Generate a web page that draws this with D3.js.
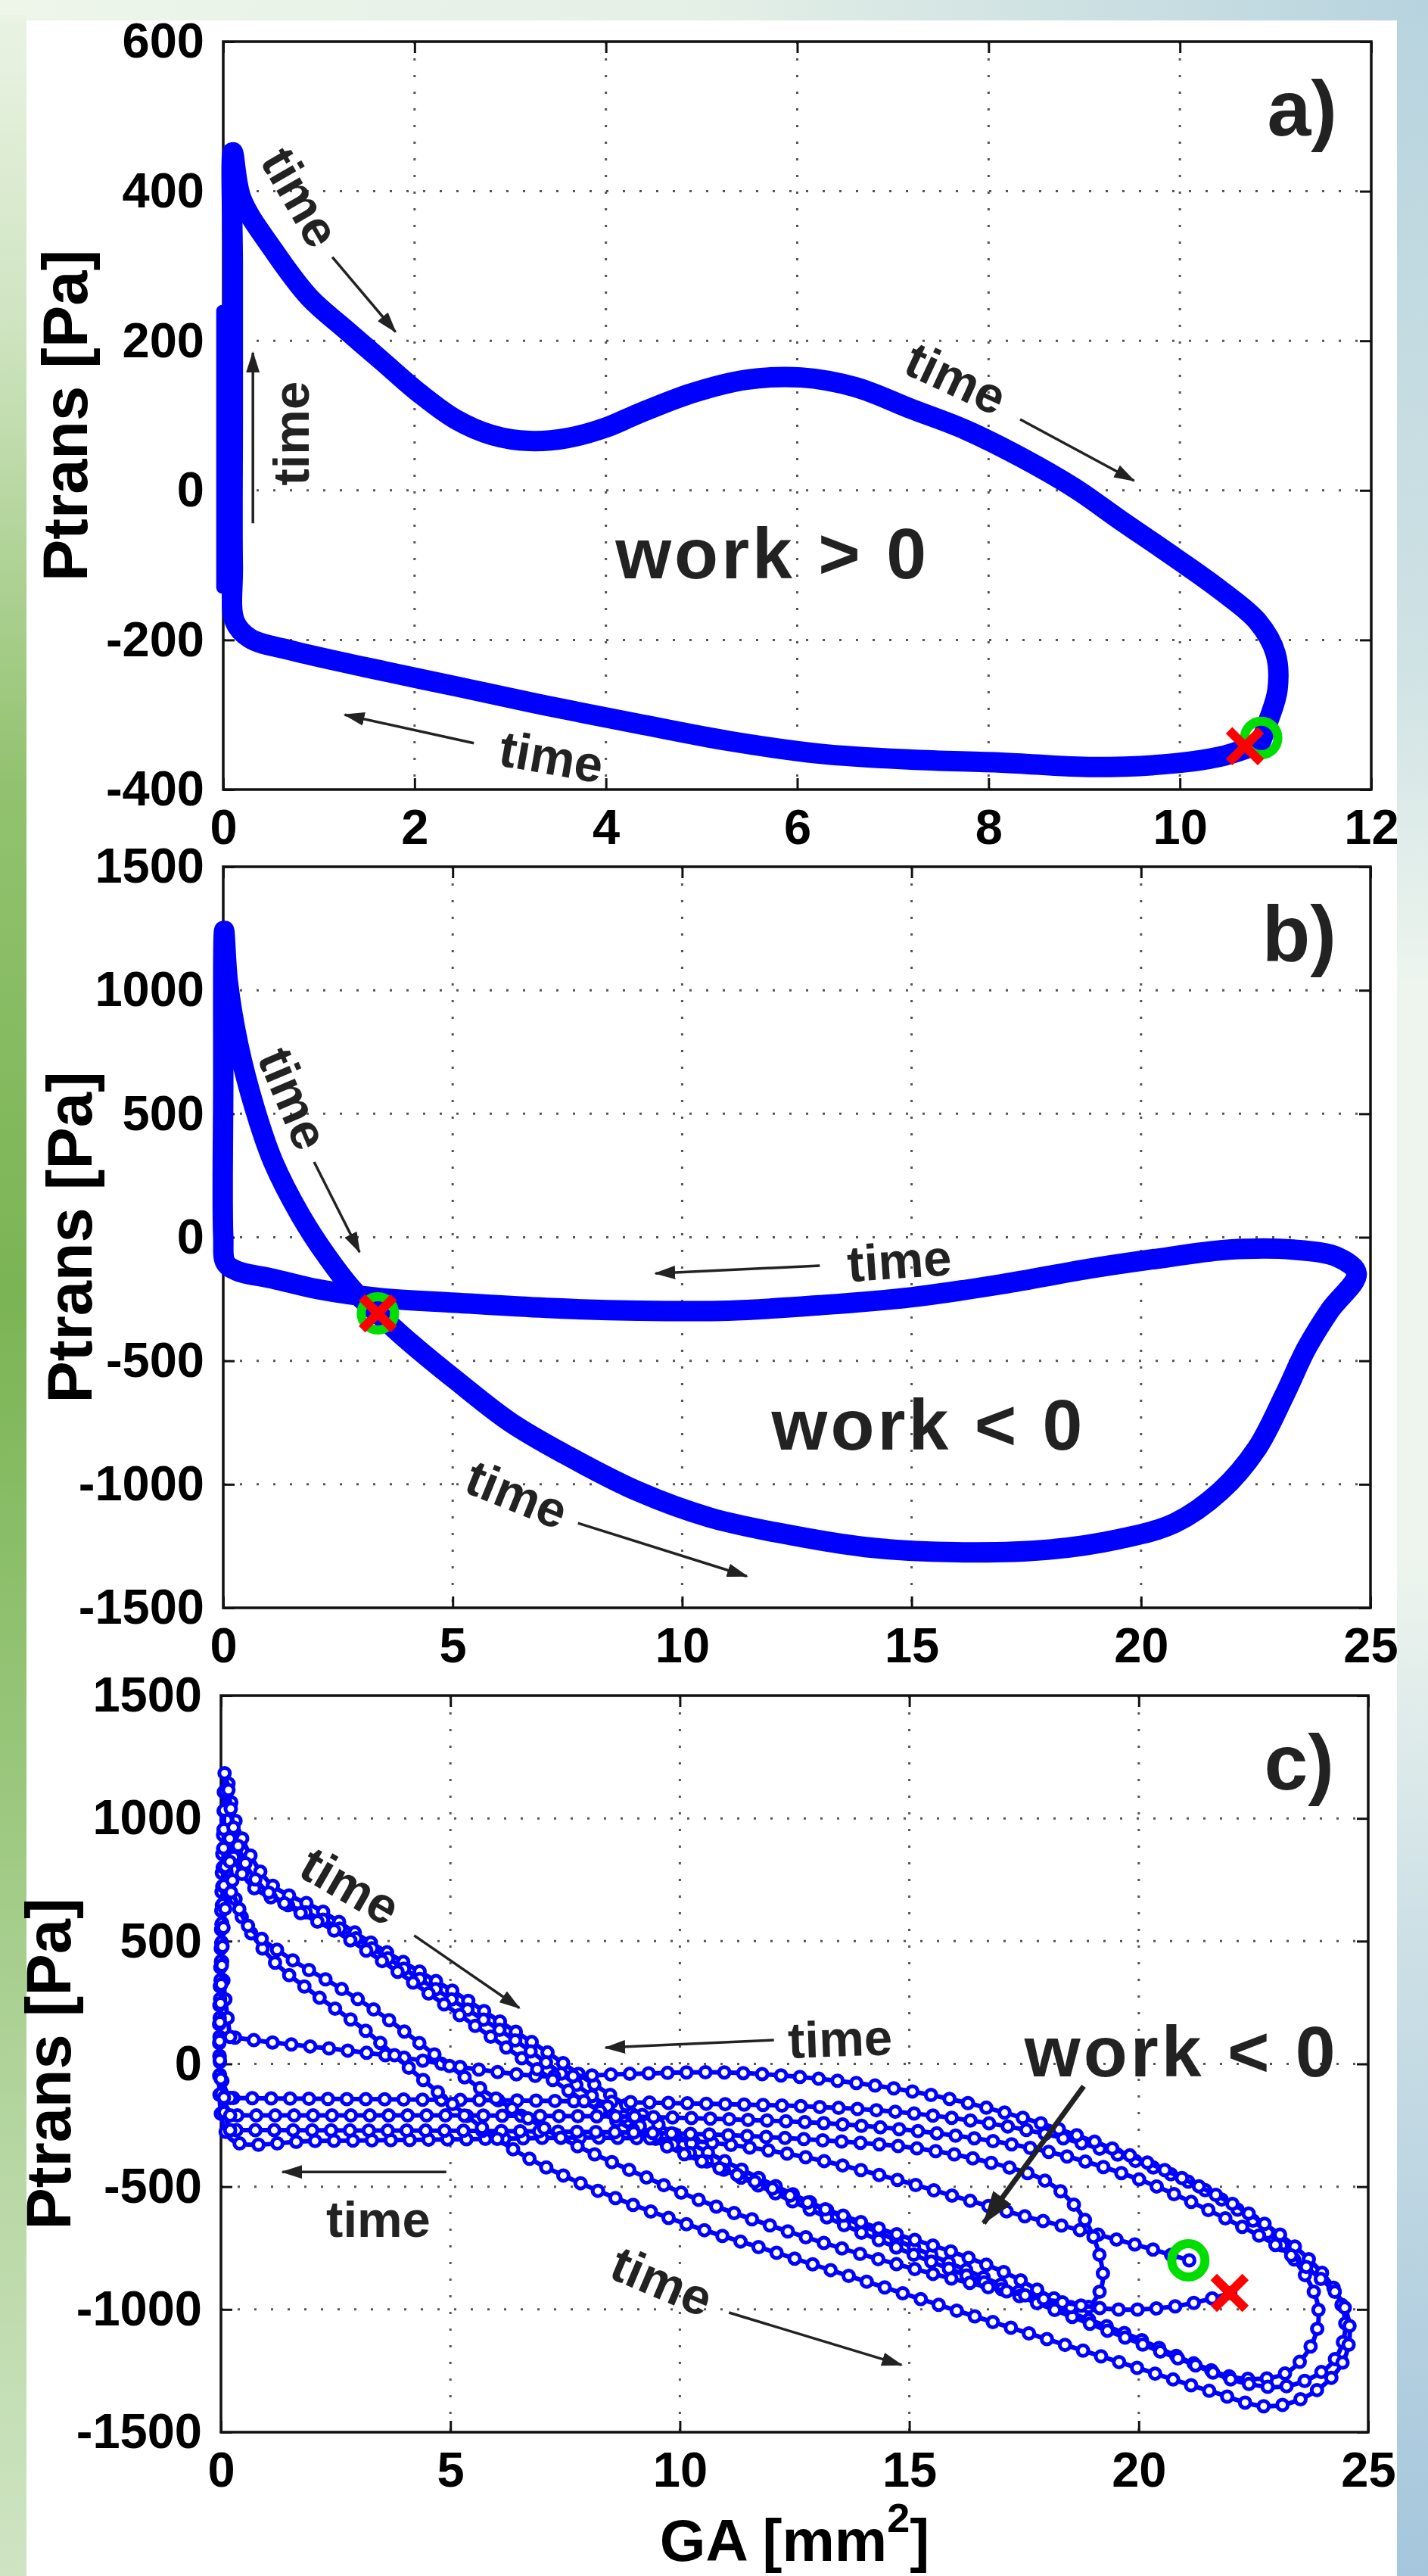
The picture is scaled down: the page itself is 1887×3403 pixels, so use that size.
<!DOCTYPE html>
<html>
<head>
<meta charset="utf-8">
<script src="https://cdn.jsdelivr.net/npm/d3@7"></script>
<style>
  body { margin: 0; background: #fff; }
  svg { display: block; }
  text { font-family: "Liberation Sans", Arial, Helvetica, sans-serif; font-weight: bold; }
</style>
</head>
<body>
<svg id="fig" width="1887" height="3403"></svg>
<script>
// tick values
var xTicksA = [0, 2, 4, 6, 8, 10, 12];
var yTicksA = [-400, -200, 0, 200, 400, 600];
var xTicksBC = [0, 5, 10, 15, 20, 25];
var yTicksBC = [-1500, -1000, -500, 0, 500, 1000, 1500];

// a) one cycle, GA [mm2] vs Ptrans [Pa]
var loopA = [[10.7,-345],[10.42,-356],[9.95,-365],[9.09,-370],[8.14,-364],[7.19,-360],[6.23,-352],[5.28,-335],
  [4.33,-312],[3.38,-288],[2.43,-262],[1.47,-236],[0.71,-214],[0.28,-198],[0.12,-175],[0.1,-100],[0.1,100],
  [0.1,300],[0.1,452],[0.19,390],[0.52,322],[0.9,258],[1.28,215],[1.66,173],[2.05,130],[2.43,95],[2.81,74],
  [3.2,66],[3.6,70],[4.0,84],[4.33,102],[4.9,130],[5.47,148],[6.04,151],[6.61,138],[7.19,109],[7.76,81],
  [8.33,45],[8.9,3],[9.38,-40],[9.95,-90],[10.42,-133],[10.81,-175],[11.0,-218],[11.02,-267],[10.92,-310],[10.85,-335]];
var edgeA = [[-0.01,240],[-0.01,-130]];
var startA = [10.85,-331];
var endA = [10.68,-342];

// b) one cycle
var loopB = [[3.37,-308],[4.07,-426],[5.06,-577],[6.25,-748],[7.44,-878],[9.03,-1028],[10.61,-1135],[12.2,-1200],
  [13.99,-1254],[15.97,-1275],[17.96,-1265],[19.54,-1221],[20.73,-1157],[21.73,-1028],[22.52,-856],[23.12,-641],
  [23.61,-448],[24.11,-297],[24.7,-147],[24.3,-82],[23.31,-50],[21.92,-50],[20.54,-82],[18.95,-125],[16.96,-190],
  [14.98,-243],[12.99,-275],[11.01,-297],[9.03,-297],[7.04,-286],[5.06,-265],[3.37,-245],[2.08,-211],[1.09,-168],
  [0.3,-136],[0.05,-103],[0.0,4],[0.0,600],[0.02,1240],[0.1,1036],[0.33,778],[0.69,520],[1.09,305],[1.68,90],
  [2.28,-82],[2.87,-222],[3.37,-308]];
var startB = [3.37,-308];
var endB = [3.37,-308];

// c) several cycles
var cycleC1 = [[21.1,-800],[20.2,-750],[19,-690],[17.5,-620],[16,-540],[14.5,-460],[13,-390],[11.5,-340],[10,-310],
  [8,-300],[6,-305],[4,-310],[2,-314],[0.3,-317],[0.05,-250],[0,300],[0.05,900],[0.1,1200],[0.3,1000],[0.7,830],
  [1.14,724],[2.13,630],[3.12,511],[4.11,400],[5.11,290],[6.1,170],[7.09,50],[8.1,-80],[9.2,-210],[10.5,-350],
  [12,-490],[13.5,-620],[15,-740],[16.5,-860],[18.2,-990],[20,-1120],[21.2,-1220],[22.2,-1280],[23.2,-1260],
  [23.8,-1130],[23.9,-980],[23.4,-800],[22.5,-640],[21.3,-500],[20,-400],[18.5,-310],[17,-250],[15,-200],
  [13,-175],[10,-160],[7,-150],[4,-145],[2,-142],[0.2,-139]];
var cycleC2 = [[0.2,-139],[0.02,-60],[0,500],[0.1,1000],[0.3,830],[0.7,720],[1.3,660],[2.3,580],[3.3,470],
  [4.3,350],[5.3,230],[6.3,110],[7.2,-10],[8,-120],[9,-240],[10.5,-390],[12,-520],[13.5,-650],[15,-770],
  [16.5,-880],[18,-990],[19.5,-1100],[21,-1210],[22.3,-1300],[23.3,-1310],[24.2,-1220],[24.5,-1080],[24.3,-930],
  [23.5,-760],[22.4,-610],[21,-470],[19.5,-350],[18,-250],[16.5,-170],[15,-110],[13,-60],[11,-35],[9,-40],
  [7,-50],[5.5,-20],[4,25],[2.5,60],[1,90],[0.2,110]];
var cycleC3 = [[0.2,110],[0.03,400],[0.05,800],[0.12,1150],[0.35,900],[0.8,740],[1.5,640],[2.5,540],[3.5,420],
  [4.5,290],[5.5,160],[6.5,30],[7.5,-100],[8.5,-220],[10,-360],[11.5,-470],[13,-580],[14.5,-680],[16,-770],
  [17.2,-860],[18.1,-950],[18.8,-1000],[19.2,-900],[19.1,-750],[18.7,-600],[18,-480],[16.5,-390],[15,-340],
  [13,-310],[11,-290],[9,-280],[7,-275],[5,-272],[3,-271],[1,-270],[0.2,-270]];
var cycleC4 = [[0.2,-270],[0.02,-150],[0,400],[0.15,850],[0.4,620],[1.14,420],[2,290],[3.12,140],[4.5,-80],
  [6.3,-340],[8.08,-506],[10.07,-648],[12.05,-766],[14.04,-885],[16,-1003],[18,-1121],[20,-1240],[21.58,-1334],
  [22.8,-1395],[23.7,-1350],[24.4,-1230],[24.6,-1090],[24.4,-960],[23.8,-850],[23,-740],[22,-640],[21,-550],
  [20,-470],[18.5,-380],[17,-320],[15,-270],[13,-240],[11,-225],[9,-215],[7,-212],[5,-210],[3,-210],[1,-210],[0.2,-210]];
var cycleC5 = [[0.2,-210],[0.02,-100],[0,300],[0.2,700],[0.6,560],[1.5,430],[2.5,320],[3.5,200],[4.5,60],
  [5.5,-80],[6.5,-200],[7.5,-310],[9,-440],[10.5,-560],[12,-660],[13.5,-750],[15,-830],[16.5,-900],[18,-960],
  [19.5,-1000],[20.7,-990],[21.5,-960],[22,-933]];
var startC = [21.08,-800];
var endC = [21.98,-933];

var svg = d3.select('#fig');
var defs = svg.append('defs');

function vGrad(id, stops, horizontal) {
  var gr = defs.append('linearGradient').attr('id', id)
    .attr('x1', 0).attr('y1', 0).attr('x2', horizontal ? 1 : 0).attr('y2', horizontal ? 0 : 1);
  stops.forEach(function(s) {
    gr.append('stop').attr('offset', s[0]).attr('stop-color', s[1]);
  });
}
vGrad('gTop', [[0,'#eef6ea'],[0.5,'#e4efe6'],[1,'#b7d3df']], true);
vGrad('gLeft', [[0,'#eaf3e4'],[0.12,'#cfe4c1'],[0.3,'#92c26f'],[0.5,'#7bb454'],[0.68,'#98c67a'],[0.85,'#b9d8a6'],[1,'#cfe4c3']]);
vGrad('gRight', [[0,'#b8d4df'],[0.25,'#cfe2e4'],[0.38,'#edf5ee'],[0.6,'#eef5ee'],[0.75,'#cde0e6'],[1,'#a5c6dc']]);

// arrow heads
defs.append('marker').attr('id', 'head').attr('viewBox', '0 0 28 18')
  .attr('refX', 26).attr('refY', 9).attr('markerWidth', 28).attr('markerHeight', 18)
  .attr('markerUnits', 'userSpaceOnUse').attr('orient', 'auto')
  .append('path').attr('d', 'M0,0L28,9L0,18Z').attr('fill', '#222');
defs.append('marker').attr('id', 'bighead').attr('viewBox', '0 0 44 30')
  .attr('refX', 42).attr('refY', 15).attr('markerWidth', 44).attr('markerHeight', 30)
  .attr('markerUnits', 'userSpaceOnUse').attr('orient', 'auto')
  .append('path').attr('d', 'M0,0L44,15L0,30Z').attr('fill', '#222');

// page background
svg.append('rect').attr('width', 1887).attr('height', 3403).attr('fill', 'url(#gTop)');
svg.append('rect').attr('x', 0).attr('y', 20).attr('width', 35).attr('height', 3383).attr('fill', 'url(#gLeft)');
svg.append('rect').attr('x', 1846).attr('y', 20).attr('width', 41).attr('height', 3383).attr('fill', 'url(#gRight)');
svg.append('rect').attr('x', 35).attr('y', 27).attr('width', 1811).attr('height', 3376).attr('fill', '#fff');

var panels = [
  { tag: 'a)', left: 295, right: 1812, top: 55, bottom: 1043, xd: [0, 12], yd: [-400, 600],
    xt: xTicksA, yt: yTicksA, ylabX: 115,
    lines: [loopA, edgeA], widths: [27, 16], markers: false, start: startA, end: endA,
    times: [{x: 0.81, y: 392, r: 60}, {x: 0.71, y: 76, r: -90}, {x: 7.66, y: 150, r: 25}, {x: 3.43, y: -356, r: 10}],
    arrows: [[[1.14, 312], [1.8, 212]], [[0.31, -44], [0.31, 184]], [[8.33, 95], [9.52, 13]], [[2.62, -338], [1.27, -300]]],
    work: {x: 5.74, y: -118, t: 'work > 0'} },
  { tag: 'b)', left: 295, right: 1811, top: 1145, bottom: 2124, xd: [0, 25], yd: [-1500, 1500],
    xt: xTicksBC, yt: yTicksBC, ylabX: 121,
    lines: [loopB], widths: [27], markers: false, start: startB, end: endB,
    times: [{x: 1.53, y: 562, r: 67}, {x: 14.73, y: -94, r: -4}, {x: 6.4, y: -1040, r: 22}],
    arrows: [[[1.98, 305], [2.97, -60]], [[13.0, -115], [9.42, -146]], [[7.73, -1157], [11.41, -1372]]],
    work: {x: 15.37, y: -860, t: 'work < 0'} },
  { tag: 'c)', left: 292, right: 1808, top: 2240, bottom: 3213, xd: [0, 25], yd: [-1500, 1500],
    xt: xTicksBC, yt: yTicksBC, ylabX: 93,
    lines: [cycleC1, cycleC2, cycleC3, cycleC4, cycleC5], widths: [6, 6, 6, 6, 6], markers: true, start: startC, end: endC,
    times: [{x: 2.82, y: 726, r: 30}, {x: 13.49, y: 103, r: -2}, {x: 3.43, y: -631, r: 0}, {x: 9.61, y: -884, r: 23}],
    arrows: [[[4.21, 523], [6.5, 228]], [[12.05, 97], [8.38, 66]], [[4.91, -440], [1.34, -440]], [[11.07, -1013], [14.83, -1226]]],
    big: [[18.8, -91], [16.62, -649]],
    work: {x: 20.93, y: -51, t: 'work < 0'},
    xlabel: true }
];

panels.forEach(function(p) {
  var x = d3.scaleLinear().domain(p.xd).range([p.left, p.right]);
  var y = d3.scaleLinear().domain(p.yd).range([p.bottom, p.top]);
  var g = svg.append('g');

  // dotted grid
  g.selectAll('.gx').data(p.xt.slice(1, -1)).enter().append('line')
    .attr('x1', function(d) { return x(d); }).attr('x2', function(d) { return x(d); })
    .attr('y1', p.top).attr('y2', p.bottom)
    .attr('stroke', '#555').attr('stroke-width', 3).attr('stroke-dasharray', '3 19');
  g.selectAll('.gy').data(p.yt.slice(1, -1)).enter().append('line')
    .attr('y1', function(d) { return y(d); }).attr('y2', function(d) { return y(d); })
    .attr('x1', p.left).attr('x2', p.right)
    .attr('stroke', '#555').attr('stroke-width', 3).attr('stroke-dasharray', '3 19');

  // axes, ticks pointing in on all four sides
  var fmt = function(d) { return String(d); };
  var axB = g.append('g').attr('transform', 'translate(0,' + p.bottom + ')')
    .call(d3.axisBottom(x).tickValues(p.xt).tickSizeInner(-15).tickSizeOuter(0).tickPadding(26).tickFormat(fmt));
  var axL = g.append('g').attr('transform', 'translate(' + p.left + ',0)')
    .call(d3.axisLeft(y).tickValues(p.yt).tickSizeInner(-15).tickSizeOuter(0).tickPadding(25).tickFormat(fmt));
  var axT = g.append('g').attr('transform', 'translate(0,' + p.top + ')')
    .call(d3.axisTop(x).tickValues(p.xt).tickSizeInner(-15).tickSizeOuter(0).tickFormat(''));
  var axR = g.append('g').attr('transform', 'translate(' + p.right + ',0)')
    .call(d3.axisRight(y).tickValues(p.yt).tickSizeInner(-15).tickSizeOuter(0).tickFormat(''));
  [axB, axL, axT, axR].forEach(function(a) {
    a.select('.domain').remove();
    a.selectAll('line').attr('stroke', '#111').attr('stroke-width', 3);
    a.attr('font-size', 65);
    a.selectAll('text').attr('fill', '#000');
  });
  g.append('rect').attr('x', p.left).attr('y', p.top)
    .attr('width', p.right - p.left).attr('height', p.bottom - p.top)
    .attr('fill', 'none').attr('stroke', '#111').attr('stroke-width', 3.5);

  // data
  var line = d3.line().x(function(d) { return x(d[0]); }).y(function(d) { return y(d[1]); })
    .curve(d3.curveCatmullRom.alpha(0.5));
  p.lines.forEach(function(pts, i) {
    var path = g.append('path').datum(pts).attr('d', line)
      .attr('fill', 'none').attr('stroke', '#0000ff').attr('stroke-width', p.widths[i])
      .attr('stroke-linejoin', 'round').attr('stroke-linecap', 'round');
    if (p.markers) {
      var node = path.node(), len = node.getTotalLength(), spots = [];
      for (var s = 0; s <= len; s += 25) spots.push(node.getPointAtLength(s));
      g.selectAll(null).data(spots).enter().append('circle')
        .attr('cx', function(d) { return d.x; }).attr('cy', function(d) { return d.y; })
        .attr('r', 7).attr('fill', '#fff').attr('stroke', '#0000ff').attr('stroke-width', 5);
    }
  });

  // start (green o) and end (red x)
  g.append('circle').attr('cx', x(p.start[0])).attr('cy', y(p.start[1])).attr('r', 22)
    .attr('fill', 'none').attr('stroke', '#00dd00').attr('stroke-width', 12);
  var ex = x(p.end[0]), ey = y(p.end[1]);
  g.append('path').attr('d', 'M' + (ex - 21) + ',' + (ey - 21) + 'L' + (ex + 21) + ',' + (ey + 21) +
      'M' + (ex + 21) + ',' + (ey - 21) + 'L' + (ex - 21) + ',' + (ey + 21))
    .attr('stroke', '#ff0000').attr('stroke-width', 12).attr('stroke-linecap', 'butt');

  // annotations
  p.arrows.forEach(function(a) {
    g.append('line').attr('x1', x(a[0][0])).attr('y1', y(a[0][1])).attr('x2', x(a[1][0])).attr('y2', y(a[1][1]))
      .attr('stroke', '#222').attr('stroke-width', 3.5).attr('marker-end', 'url(#head)');
  });
  if (p.big) {
    g.append('line').attr('x1', x(p.big[0][0])).attr('y1', y(p.big[0][1])).attr('x2', x(p.big[1][0])).attr('y2', y(p.big[1][1]))
      .attr('stroke', '#222').attr('stroke-width', 7).attr('marker-end', 'url(#bighead)');
  }
  p.times.forEach(function(t) {
    g.append('text').attr('transform', 'translate(' + x(t.x) + ',' + y(t.y) + ') rotate(' + t.r + ')')
      .attr('text-anchor', 'middle').attr('dominant-baseline', 'central')
      .attr('font-size', 67).attr('fill', '#222').text('time');
  });
  g.append('text').attr('x', x(p.work.x)).attr('y', y(p.work.y)).attr('text-anchor', 'middle')
    .attr('font-size', 95).attr('letter-spacing', 4).attr('fill', '#222').text(p.work.t);
  g.append('text').attr('x', p.right - 45).attr('y', p.top + 124).attr('text-anchor', 'end')
    .attr('font-size', 104).attr('fill', '#222').text(p.tag);

  // y label
  g.append('text').attr('transform', 'translate(' + p.ylabX + ',' + ((p.top + p.bottom) / 2) + ') rotate(-90)')
    .attr('text-anchor', 'middle').attr('font-size', 83).attr('fill', '#000').text('Ptrans [Pa]');

  if (p.xlabel) {
    var xl = g.append('text').attr('x', (p.left + p.right) / 2).attr('y', 3383)
      .attr('text-anchor', 'middle').attr('font-size', 78).attr('fill', '#000');
    xl.append('tspan').text('GA [mm');
    xl.append('tspan').attr('dy', -38).attr('font-size', 54).text('2');
    xl.append('tspan').attr('dy', 38).text(']');
  }
});
</script>
</body>
</html>
